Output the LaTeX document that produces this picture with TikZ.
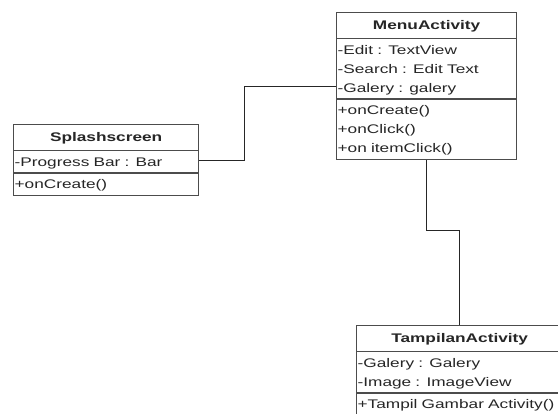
\documentclass[tikz,border=0pt]{standalone}
\usepackage{fontspec}
\setmainfont{Liberation Sans}[FakeStretch=1.38]
\usetikzlibrary{shapes.multipart, positioning}

\newcommand{\umlrow}{\rule[-5pt]{0pt}{19pt}}
\newcommand{\umltitle}[1]{{\centering\bfseries\rule[-7pt]{0pt}{22pt}#1\par}}

\begin{document}
\begin{tikzpicture}[
    x=1pt, y=-1pt,
    every node/.style={font=\fontsize{12.5}{19}\selectfont, text=black!85},
    umlclass/.style={draw=black!70, line width=1.3pt, fill=white, rectangle split, rectangle split parts=3, rectangle split draw splits=true, inner xsep=1pt, inner ysep=1.2pt, align=left, anchor=north west},
    link/.style={draw=black!85, line width=1.1pt}
]
\useasboundingbox (0,0) rectangle (558,414);

% classes
\node[umlclass, text width=178pt] (menu) at (336,12) {\umltitle{MenuActivity}
    \nodepart{two}\umlrow-Edit : TextView\\\umlrow-Search : Edit Text\\\umlrow-Galery : galery
    \nodepart{three}\umlrow+onCreate()\\\umlrow+onClick()\\\umlrow+on itemClick()};

\node[umlclass, text width=183pt] (splash) at (13,124) {\umltitle{Splashscreen}
    \nodepart{two}\umlrow-Progress Bar : Bar
    \nodepart{three}\umlrow+onCreate()};

\node[umlclass, text width=204pt] (tampil) at (356,325) {\umltitle{TampilanActivity}
    \nodepart{two}\umlrow-Galery : Galery\\\umlrow-Image : ImageView
    \nodepart{three}\umlrow+Tampil Gambar Activity()};

% associations
\draw[link] (splash.east) -- ++(45,0) |- (menu.west);
\draw[link] (menu.south) -- ++(0,70) -| (tampil.north);

\end{tikzpicture}
\end{document}
